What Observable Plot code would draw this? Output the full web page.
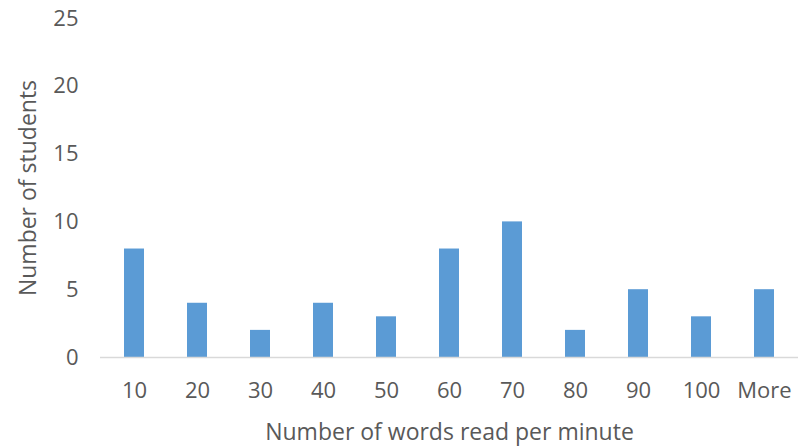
<!DOCTYPE html>
<html>
<head>
<meta charset="utf-8">
<script src="https://cdn.jsdelivr.net/npm/d3@7"></script>
<script src="https://cdn.jsdelivr.net/npm/@observablehq/plot@0.6"></script>
<style>
  html, body { margin: 0; padding: 0; background: #fff; }
</style>
</head>
<body>
<div id="chart"></div>
<script>
const categories = ["10", "20", "30", "40", "50", "60", "70", "80", "90", "100", "More"];
const students = [8, 4, 2, 4, 3, 8, 10, 2, 5, 3, 5];
const yTicks = [0, 5, 10, 15, 20, 25];

const data = categories.map((c, i) => ({bin: c, count: students[i]}));

const chart = Plot.plot({
  width: 798,
  height: 447,
  marginLeft: 100,
  marginRight: 0,
  marginTop: 18,
  marginBottom: 90,
  style: {fontSize: "22px", fontFamily: "Open Sans, sans-serif", color: "#595959", background: "#fff"},
  x: {domain: categories, paddingInner: 0.685, paddingOuter: 0.3425},
  y: {domain: [0, 25]},
  marks: [
    Plot.barY(data, {x: "bin", y: "count", fill: "#5b9bd5"}),
    Plot.ruleY([0], {stroke: "#d9d9d9", strokeWidth: 1.5}),
    Plot.axisY({ticks: yTicks, tickSize: 0, tickPadding: 22, fontSize: 22, fill: "#595959", label: null}),
    Plot.axisY({ticks: [], tickSize: 0, label: "Number of students", labelAnchor: "center", labelArrow: "none", labelOffset: 81, fontSize: 23, fill: "#595959"}),
    Plot.axisX({tickSize: 0, tickPadding: 25, fontSize: 22, fill: "#595959", label: null}),
    Plot.axisX({ticks: [], tickSize: 0, label: "Number of words read per minute", labelAnchor: "center", labelArrow: "none", labelOffset: 82, fontSize: 23, fill: "#595959"})
  ]
});
document.getElementById("chart").appendChild(chart);
</script>
</body>
</html>
